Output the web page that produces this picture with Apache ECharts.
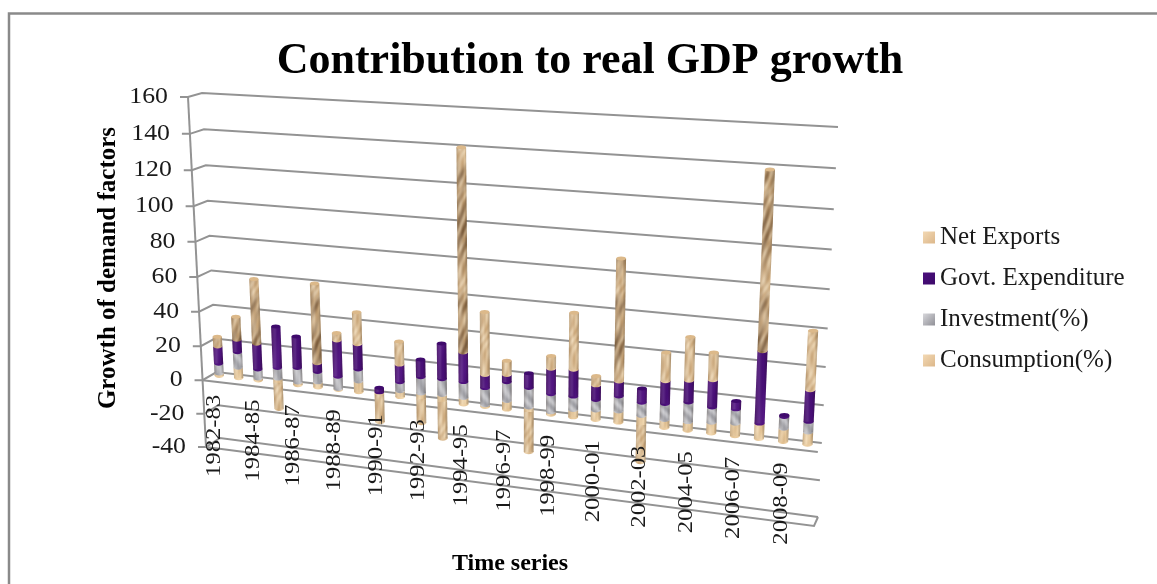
<!DOCTYPE html>
<html>
<head>
<meta charset="utf-8">
<style>html,body{margin:0;padding:0;background:#fff}#chart{width:1157px;height:584px}</style>
<script src="https://cdn.jsdelivr.net/npm/echarts@6/dist/echarts.min.js"></script>
</head>
<body>
<div id="chart"></div>
<script>
const categories = ['1982-83','1983-84','1984-85','1985-86','1986-87','1987-88','1988-89','1989-90','1990-91','1991-92','1992-93','1993-94','1994-95','1995-96','1996-97','1997-98','1998-99','1999-00','2000-01','2001-02','2002-03','2003-04','2004-05','2005-06','2006-07','2007-08','2008-09','2009-10'];
const consumption = [1.5,6.2,1.2,2.5,1.6,3,0.5,6.3,1.3,3.4,3.5,4,3.7,1,4.8,2.6,1.4,4.1,5.3,6.2,5.1,4.4,4.7,5.8,6.8,8.3,7.1,6.5];
const investment = [5.8,9.1,5.3,6.2,8.4,6.1,7.1,6.8,0,5.1,9.2,9,9,9.7,10.6,10.9,10,7.4,5.7,8.2,7.3,8.7,10.7,8.3,7.7,0,6.2,5.7];
const govtExpenditure = [10.2,7.4,15.1,24,18.1,5,20.9,14.5,2.6,10.1,10,20,16.6,7.3,4,8.1,14.1,14.8,8.1,8.2,7.6,12.3,11.7,14.6,4.3,38.4,0.9,16.7];
const netExports = [5.5,13.2,37.2,-15.5,0,45.5,4.2,18,-16,13,-13.6,-21,110.7,34.8,7.8,-22.6,6.9,30.8,5,65.5,-20.4,15.4,23.2,14.6,0,92.2,0,30.8];
const valueTicks = [160,140,120,100,80,60,40,20,0,-20,-40];

const SERIF = "'Liberation Serif','Times New Roman',serif";
const LINE = '#939393';

// Corners of the two upright planes of the 3-D box: the back wall and the front face.
const backPlane  = [[202,93],[838,127],[818,517],[220,438]];
const frontPlane = [[188,97],[834,136],[814,526],[206,447]];

function squareToQuad(q) {
  const [[x0,y0],[x1,y1],[x2,y2],[x3,y3]] = q;
  const dx1 = x1-x2, dx2 = x3-x2, sx = x0-x1+x2-x3;
  const dy1 = y1-y2, dy2 = y3-y2, sy = y0-y1+y2-y3;
  const den = dx1*dy2-dx2*dy1;
  const g = (sx*dy2-dx2*sy)/den, h = (dx1*sy-sx*dy1)/den;
  const a = x1-x0+g*x1, b = x3-x0+h*x3, d = y1-y0+g*y1, e = y3-y0+h*y3;
  return (u,v) => {
    const k = g*u+h*v+1;
    return [(a*u+b*v+x0)/k, (d*u+e*v+y0)/k];
  };
}
const toBack = squareToQuad(backPlane), toFront = squareToQuad(frontPlane);

// Maps a pixel of the flat cartesian grid into the box; depth 0 is the back wall, 1 the front face.
function project(cs, px, py, depth) {
  const u = (px-cs.x)/cs.width, v = (py-cs.y)/cs.height;
  const b = toBack(u,v), f = toFront(u,v);
  return [b[0]+(f[0]-b[0])*depth, b[1]+(f[1]-b[1])*depth];
}

function mix(a,b,t){ return [a[0]+(b[0]-a[0])*t, a[1]+(b[1]-a[1])*t, a[2]+(b[2]-a[2])*t]; }
function clamp01(t){ return Math.max(0,Math.min(1,t)); }
function bump(y,c,w){ return Math.exp(-((y-c)*(y-c))/(2*w*w)); }

// Cylinder surface textures, painted once and used as pattern fills.
function paintTexture(shader) {
  const c = document.createElement('canvas');
  c.width = 1157; c.height = 584;
  const ctx = c.getContext('2d');
  const img = ctx.createImageData(c.width,c.height);
  for (let y=0;y<c.height;y++) for (let x=0;x<c.width;x++) {
    const col = shader(x,y), i = (y*c.width+x)*4;
    img.data[i]=col[0]; img.data[i+1]=col[1]; img.data[i+2]=col[2]; img.data[i+3]=255;
  }
  ctx.putImageData(img,0,0);
  return c;
}
const woodTexture = paintTexture((x,y) => {
  const fine = 0.5+0.25*Math.sin(y*0.42+x*0.9+2*Math.sin(y*0.13))+0.25*Math.sin(y*0.19-x*0.5);
  const veins = bump(x,246,18)+bump(x,316,8)+bump(x,462,8)+bump(x,617,8)+bump(x,762,9);
  const bands = bump(y,345,16)+bump(y,228,28)+0.8*bump(y,305,7)+0.7*bump(y,175,6);
  const dark = clamp01(veins*bands*(0.65+0.35*Math.sin(y*0.31+x*0.8)));
  return mix(mix([236,212,176],[206,170,124],fine),[110,78,46],dark*0.85);
});
const sandTexture = paintTexture((x,y) => mix([242,216,176],[224,190,142],0.5+0.25*Math.sin(y*0.3+x*0.7)+0.25*Math.sin(y*0.13-x*0.4)));
const slateTexture = paintTexture((x,y) => mix([200,200,204],[160,160,166],0.5+0.5*Math.sin((x-y*0.7)*0.5+2*Math.sin(y*0.1))));
const plumTexture = paintTexture((x,y) => mix([72,14,118],[88,26,136],clamp01(Math.sin(y*0.06+x*0.2))*0.7));

const barShade = {type:'linear',x:0,y:0,x2:1,y2:0,colorStops:[
  {offset:0,color:'rgba(60,40,20,0.22)'},{offset:0.38,color:'rgba(255,255,255,0.10)'},
  {offset:0.7,color:'rgba(0,0,0,0)'},{offset:1,color:'rgba(40,25,10,0.28)'}]};

function swatch(light, dark) {
  return {type:'linear',x:0,y:0,x2:1,y2:1,colorStops:[{offset:0,color:light},{offset:1,color:dark}]};
}

// Positive values stack upward from zero, negative values downward, in series order.
const stackOrder = [consumption,investment,govtExpenditure,netExports];
const segments = stackOrder.map(() => []);
categories.forEach((_,i) => {
  let up = 0, down = 0;
  stackOrder.forEach((values,s) => {
    const val = values[i];
    if (!val) return;
    if (val>0) { segments[s].push([i,up,up+val]); up += val; }
    else { segments[s].push([i,down,down+val]); down += val; }
  });
  // the highest positive segment of each stack carries the visible cap
  for (let s=3;s>=0;s--) {
    const seg = segments[s].find(d => d[0]===i && d[2]>d[1]);
    if (seg) { seg.push(1); break; }
  }
});

function barSeries(name, data, texture, legendColor, capColor) {
  return {
    type:'custom', name, z:3, silent:true, animation:false,
    itemStyle:{color:legendColor},
    encode:{x:0,y:[1,2]},
    data:data.map(d => d.length===3 ? d.concat(0) : d),
    renderItem(params, api) {
      const cs = params.coordSys;
      const i = api.value(0);
      const a = api.coord([i,api.value(1)]), b = api.coord([i,api.value(2)]);
      const p1 = project(cs,a[0],a[1],0.5), p2 = project(cs,b[0],b[1],0.5);
      // cylinders stand slightly behind the middle of the floor
      p1[1] -= 1.5; p2[1] -= 1.5;
      const lo = p1[1]>p2[1] ? p1 : p2, hi = p1[1]>p2[1] ? p2 : p1;
      const hw = 4.6+0.5*i/categories.length;
      const body = [[lo[0]-hw,lo[1]],[lo[0]+hw,lo[1]],[hi[0]+hw,hi[1]],[hi[0]-hw,hi[1]]];
      const children = [
        {type:'ellipse',shape:{cx:lo[0],cy:lo[1],rx:hw,ry:2.2},style:{fill:{image:texture,repeat:'repeat'}}},
        {type:'polygon',shape:{points:body},style:{fill:{image:texture,repeat:'repeat'}}},
        {type:'polygon',shape:{points:body},style:{fill:barShade}}
      ];
      if (api.value(3)) children.push({type:'ellipse',shape:{cx:hi[0],cy:hi[1],rx:hw,ry:2},style:{fill:capColor}});
      return {type:'group',children};
    }
  };
}

const option = {
  animation:false,
  backgroundColor:'#fff',
  title:{text:'Contribution to real GDP growth',left:585,top:35,textAlign:'center',
    textStyle:{fontFamily:SERIF,fontWeight:'bold',fontSize:44,color:'#000'}},
  legend:{orient:'vertical',left:918,top:220,itemWidth:12,itemHeight:12,itemGap:16,icon:'rect',
    selectedMode:false,
    data:['Net Exports','Govt. Expenditure','Investment(%)','Consumption(%)'],
    textStyle:{fontFamily:SERIF,fontSize:25,color:'#1a1a1a'}},
  grid:{left:202,top:93,width:616,height:350},
  xAxis:{type:'category',data:categories,name:'Time series',nameLocation:'center',nameGap:109,
    nameTextStyle:{fontFamily:SERIF,fontWeight:'bold',fontSize:24,color:'#000'},
    axisLine:{show:false},axisTick:{show:false},axisLabel:{show:false},splitLine:{show:false}},
  yAxis:{type:'value',min:-40,max:160,interval:20,name:'Growth of demand factors',nameLocation:'center',nameRotate:90,nameGap:81,
    nameTextStyle:{fontFamily:SERIF,fontWeight:'bold',fontSize:25,color:'#000'},
    axisLine:{show:false},axisTick:{show:false},axisLabel:{show:false},splitLine:{show:false}},
  graphic:[{type:'polyline',shape:{points:[[9,584],[9,13.5],[1157,13.5]]},silent:true,
    style:{fill:'none',stroke:'#8a8a8a',lineWidth:2.5}}],
  series:[
    // gridlines, ticks and value labels of the slanted axis
    {type:'custom',name:'axis',silent:true,z:1,animation:false,encode:{y:1},
      data:valueTicks.map(v => [0,v]),
      renderItem(params, api) {
        const cs = params.coordSys, v = api.value(1);
        const py = api.coord([0,v])[1];
        const f = project(cs,cs.x,py,1), b = project(cs,cs.x,py,0), r = project(cs,cs.x+cs.width,py,0);
        const fr = project(cs,cs.x+cs.width,py,1);
        const outer = [f[0]-8,f[1]];
        const lineStyle = {fill:'none',stroke:LINE,lineWidth:2};
        const children = [
          {type:'polyline',shape:{points:[outer,f,b,r]},style:lineStyle},
          {type:'text',x:outer[0]-12,y:outer[1],scaleX:1.12,
            style:{text:String(v),align:'right',verticalAlign:'middle',fontFamily:SERIF,fontSize:23,fill:'#1a1a1a'}}
        ];
        if (v===0) children.push({type:'polyline',shape:{points:[f,fr]},style:lineStyle});
        if (v===valueTicks[valueTicks.length-1]) children.push({type:'polyline',shape:{points:[f,fr,r]},style:lineStyle});
        if (v===valueTicks[0]) {
          const bottom = api.coord([0,valueTicks[valueTicks.length-1]])[1];
          children.push({type:'polyline',shape:{points:[f,project(cs,cs.x,bottom,1)]},style:lineStyle});
        }
        return {type:'group',children};
      }},
    barSeries('Consumption(%)',segments[0],sandTexture,swatch('#f3d9b4','#dcb78a'),'#f0d4ac'),
    barSeries('Investment(%)',segments[1],slateTexture,swatch('#d8d8dc','#8f8f96'),'#c4c4c8'),
    barSeries('Govt. Expenditure',segments[2],plumTexture,swatch('#4a0f7c','#3d0a6a'),'#3f0a6c'),
    barSeries('Net Exports',segments[3],woodTexture,swatch('#f3d9b4','#dcb78a'),'#dcb98a'),
    // every second category is labelled, rotated below the floor
    {type:'custom',name:'labels',silent:true,z:4,animation:false,encode:{x:0},
      data:categories.map((c,i) => [i]).filter(d => d[0]%2===0),
      renderItem(params, api) {
        const cs = params.coordSys, i = api.value(0);
        const p = api.coord([i,-8]);
        const q = project(cs,p[0],p[1],1);
        return {type:'text',x:q[0]+1,y:q[1],rotation:Math.PI/2,scaleX:1.12,
          style:{text:categories[i],align:'right',verticalAlign:'middle',fontFamily:SERIF,fontSize:22,fill:'#1a1a1a'}};
      }}
  ]
};
const chart = echarts.init(document.getElementById('chart'),null,{renderer:'canvas'});
chart.setOption(option);
</script>
</body>
</html>
